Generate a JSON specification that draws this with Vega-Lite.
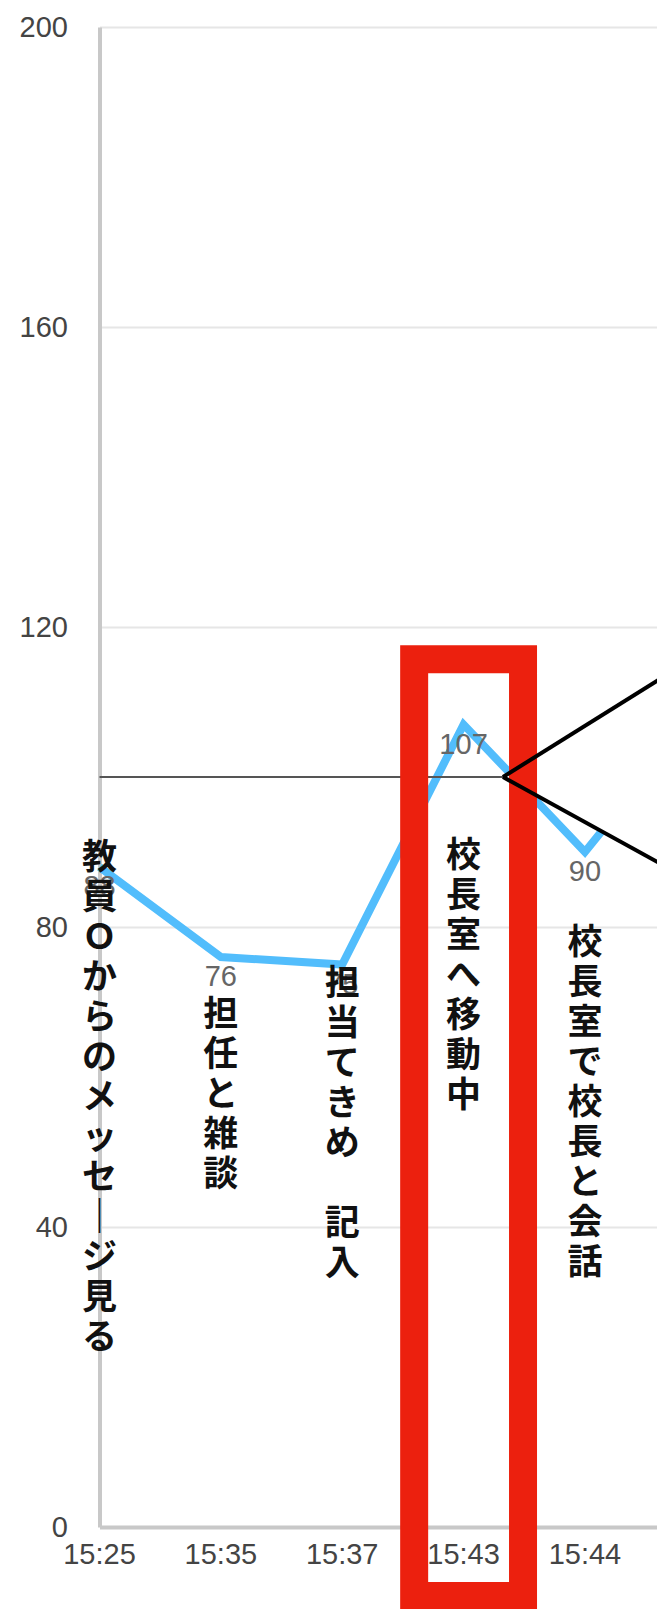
{
  "$schema": "https://vega.github.io/schema/vega-lite/v6.json",
  "autosize": {"type": "none"},
  "width": 557.5,
  "height": 1500,
  "padding": {"left": 99.5, "top": 27, "right": 0, "bottom": 82},
  "background": "white",
  "config": {
    "view": {"stroke": null},
    "axis": {"labelFont": "Liberation Sans", "labelFontSize": 29, "labelColor": "#444", "title": null, "ticks": false}
  },
  "datasets": {
    "points": [
      {"time": "15:25", "value": 88, "note": "教員Ｏからのメッセージ見る", "noteAt": 91.5},
      {"time": "15:35", "value": 76, "note": "担任と雑談", "noteAt": 70.5},
      {"time": "15:37", "value": 75, "note": "担当てきめ　記入", "noteAt": 74.7},
      {"time": "15:43", "value": 107, "note": "校長室へ移動中", "noteAt": 91.7},
      {"time": "15:44", "value": 90, "note": "校長室で校長と会話", "noteAt": 80.1},
      {"time": "", "value": 110, "note": "", "noteAt": null}
    ],
    "reference": [{"level": 100}],
    "callout": [
      {"x": 4.325, "lo": 100, "hi": 100},
      {"x": 6.0, "lo": 85.1, "hi": 116.9}
    ],
    "callout_edges": [
      {"x": 4.325, "y": 100, "x2": 6.0, "y2": 116.9},
      {"x": 4.325, "y": 100, "x2": 6.0, "y2": 85.1}
    ],
    "highlight": [{"x": 3.593, "x2": 4.49, "y": 115.7, "y2": -9.2}]
  },
  "data": {"name": "points"},
  "transform": [{"window": [{"op": "row_number", "as": "slot"}]}],
  "layer": [
    {
      "mark": {"type": "line", "color": "#52bdfc", "strokeWidth": 8, "strokeJoin": "miter"},
      "encoding": {
        "x": {
          "field": "slot", "type": "quantitative",
          "scale": {"domain": [1, 5.594], "nice": false, "zero": false},
          "axis": {"labels": false, "grid": false, "domainColor": "#c8c8c8", "domainWidth": 4}
        },
        "y": {
          "field": "value", "type": "quantitative",
          "scale": {"domain": [0, 200], "nice": false},
          "axis": {"values": [0, 40, 80, 120, 160, 200], "domainColor": "#c8c8c8", "domainWidth": 4, "gridColor": "#e6e6e6", "gridWidth": 2, "labelPadding": 32}
        }
      }
    },
    {
      "data": {"name": "reference"},
      "mark": {"type": "rule", "color": "#555", "strokeWidth": 2},
      "encoding": {"y": {"field": "level", "type": "quantitative"}}
    },
    {
      "transform": [{"filter": "datum.time !== ''"}],
      "mark": {"type": "text", "font": "Liberation Sans", "fontSize": 29, "color": "#666", "baseline": "middle", "align": "center", "dy": 20},
      "encoding": {
        "x": {"field": "slot", "type": "quantitative"},
        "y": {"field": "value", "type": "quantitative"},
        "text": {"field": "value", "type": "quantitative"}
      }
    },
    {
      "transform": [
        {"filter": "datum.note !== ''"},
        {"calculate": "join(split(replace(replace(datum.note, 'ー', '｜'), '　', '⠀'), ''), '\\n')", "as": "vt"}
      ],
      "mark": {"type": "text", "font": "Noto Sans CJK JP", "fontWeight": "bold", "fontSize": 35, "lineHeight": 40, "lineBreak": "\n", "color": "#111", "baseline": "top", "align": "center"},
      "encoding": {
        "x": {"field": "slot", "type": "quantitative"},
        "y": {"field": "noteAt", "type": "quantitative"},
        "text": {"field": "vt", "type": "nominal"}
      }
    },
    {
      "transform": [{"filter": "datum.time !== ''"}],
      "mark": {"type": "text", "font": "Liberation Sans", "fontSize": 29, "color": "#444", "baseline": "middle", "align": "center", "dy": 28},
      "encoding": {
        "x": {"field": "slot", "type": "quantitative"},
        "y": {"datum": 0},
        "text": {"field": "time", "type": "nominal"}
      }
    },
    {
      "data": {"name": "callout"},
      "mark": {"type": "area", "color": "white", "opacity": 1},
      "encoding": {
        "x": {"field": "x", "type": "quantitative"},
        "y": {"field": "hi", "type": "quantitative"},
        "y2": {"field": "lo"}
      }
    },
    {
      "data": {"name": "highlight"},
      "mark": {"type": "rect", "fill": null, "fillOpacity": 0, "stroke": "#ec200e", "strokeWidth": 28},
      "encoding": {
        "x": {"field": "x", "type": "quantitative"},
        "x2": {"field": "x2"},
        "y": {"field": "y", "type": "quantitative"},
        "y2": {"field": "y2"}
      }
    },
    {
      "data": {"name": "callout_edges"},
      "mark": {"type": "rule", "color": "black", "strokeWidth": 4},
      "encoding": {
        "x": {"field": "x", "type": "quantitative"},
        "x2": {"field": "x2"},
        "y": {"field": "y", "type": "quantitative"},
        "y2": {"field": "y2"}
      }
    }
  ]
}
